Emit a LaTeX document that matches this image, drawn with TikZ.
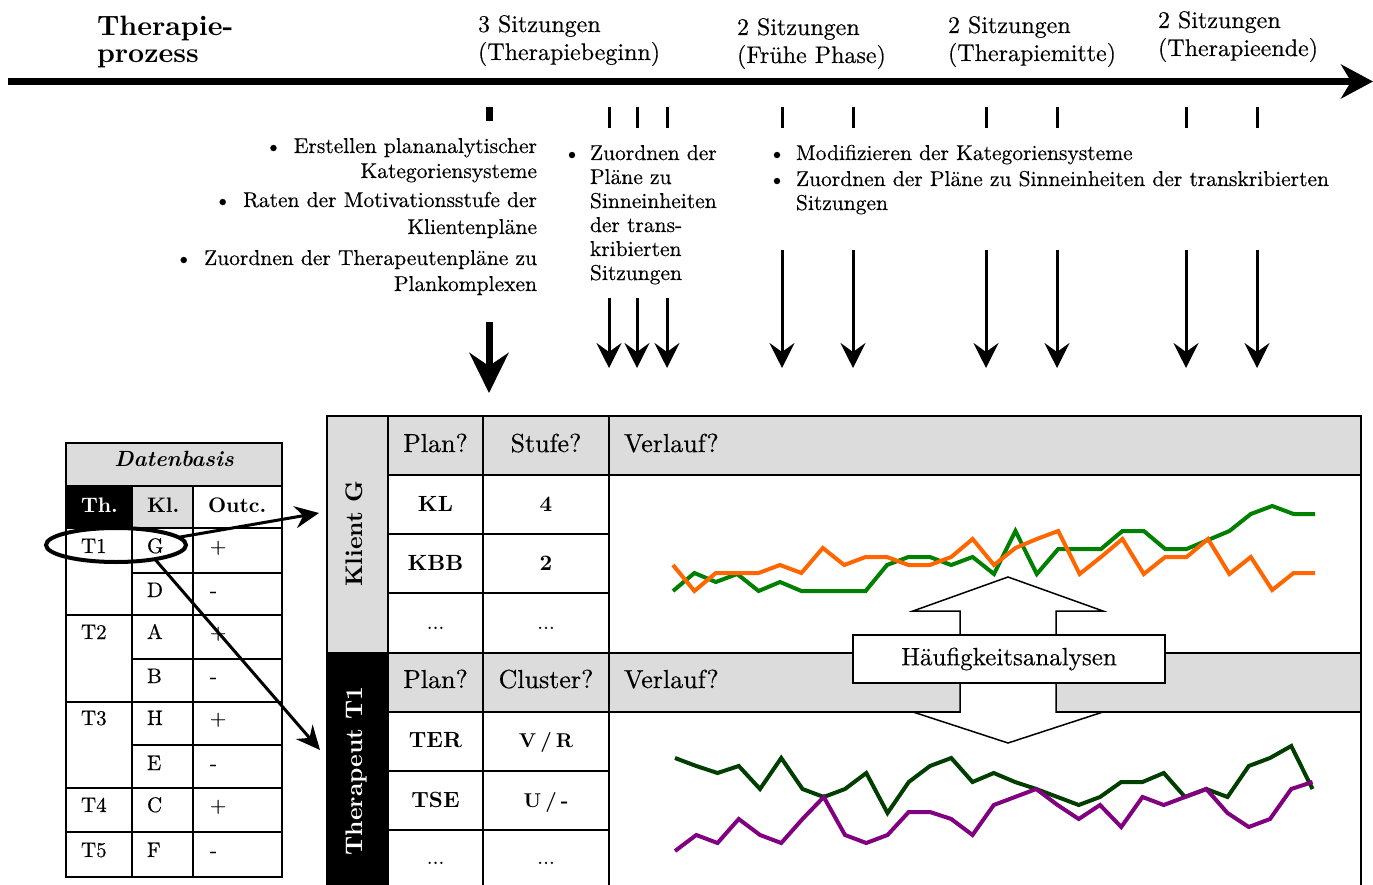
\documentclass[tikz,border=0pt]{standalone}
\usepackage{fontspec}
% use the 10pt design of Latin Modern at every size, slightly darkened
\setmainfont{lmroman10}[Extension=.otf,
  UprightFont=*-regular, BoldFont=*-bold,
  ItalicFont=*-italic, BoldItalicFont=*-bolditalic,
  UprightFeatures={FakeBold=0.4}]
\usetikzlibrary{arrows.meta,shapes.geometric}

\definecolor{cellgray}{RGB}{220,220,220}
\definecolor{kgreen}{RGB}{0,128,0}
\definecolor{korange}{RGB}{255,102,0}
\definecolor{tgreen}{RGB}{0,62,0}
\definecolor{tpurple}{RGB}{128,0,128}

\begin{document}
\begin{tikzpicture}[x=1pt,y=-1pt,
  every node/.style={inner sep=0pt,outer sep=0pt},
  ttl/.style={anchor=base west,font=\fontsize{28}{32}\selectfont\bfseries},
  phase/.style={anchor=base west,font=\fontsize{24}{28}\selectfont},
  bulr/.style={anchor=base east,font=\fontsize{21.5}{26}\selectfont},
  bull/.style={anchor=base west,font=\fontsize{21.5}{26}\selectfont},
  bdot/.style={anchor=base,font=\fontsize{21.5}{26}\selectfont},
  tickmark/.style={line width=3pt},
  flow/.style={line width=3pt,-{Stealth[length=25pt,width=25pt,inset=9pt]}},
  bigflow/.style={line width=7pt,-{Stealth[length=40pt,width=39pt,inset=13pt]}},
  drule/.style={line width=2pt},
  trule/.style={line width=2.5pt},
  thead/.style={anchor=base,font=\fontsize{26}{30}\selectfont},
  tcell/.style={anchor=base,font=\fontsize{22}{26}\selectfont\bfseries},
  vcell/.style={anchor=base,font=\fontsize{20}{24}\selectfont\bfseries},
  tdots/.style={anchor=base,font=\fontsize{21}{25}\selectfont},
  dcell/.style={anchor=base west,font=\fontsize{21}{25}\selectfont},
  dhead/.style={anchor=base west,font=\fontsize{21}{25}\selectfont\bfseries},
  side/.style={anchor=base,rotate=90,font=\fontsize{24}{28}\selectfont\bfseries},
  link/.style={line width=3pt,-{Stealth[length=24pt,width=22pt,inset=8pt]}},
  series/.style={line width=4pt},
]
\useasboundingbox (0,0) rectangle (1373,885);

% ---------- time line ----------
\node[ttl] (ttlA) at (97,36) {Therapie-};
\node[ttl] (ttlB) at (97,63) {prozess};

\node[phase] (p1a) at (478,32) {3 Sitzungen};
\node[phase] (p1b) at (478,60) {(Therapiebeginn)};
\node[phase] (p2a) at (737,35) {2 Sitzungen};
\node[phase] (p2b) at (737,63) {(Frühe Phase)};
\node[phase] (p3a) at (948,33) {2 Sitzungen};
\node[phase] (p3b) at (948,61) {(Therapiemitte)};
\node[phase] (p4a) at (1158,28) {2 Sitzungen};
\node[phase] (p4b) at (1158,56) {(Therapieende)};

\coordinate (axisL) at (8,81.5);
\coordinate (axisR) at (1373,81.5);
\draw[line width=7pt,-{Stealth[length=32pt,width=34pt,inset=10pt]}] (axisL) -- (axisR);

% session marks
\draw[line width=7pt] (489,107) -- (489,121);
\foreach \x in {609,637,667,782,853,986,1057,1186,1257}
  \draw[tickmark] (\x,107) -- (\x,128);

% ---------- work steps ----------
\node[bulr] (s1a) at (537,153) {\textbullet\hspace{12pt}Erstellen plananalytischer};
\node[bulr] (s1b) at (537,178) {Kategoriensysteme};
\node[bulr] (s2a) at (537,207) {\textbullet\hspace{12pt}Raten der Motivationsstufe der};
\node[bulr] (s2b) at (537,234) {Klientenpläne};
\node[bulr] (s3a) at (537,265) {\textbullet\hspace{12pt}Zuordnen der Therapeutenpläne zu};
\node[bulr] (s3b) at (537,291) {Plankomplexen};

\node[bdot] (m0) at (572,160) {\textbullet};
\node[bull] (m1) at (590,160) {Zuordnen der};
\node[bull] (m2) at (590,184) {Pläne zu};
\node[bull] (m3) at (590,208) {Sinneinheiten};
\node[bull] (m4) at (590,232) {der trans-};
\node[bull] (m5) at (590,256) {kribierten};
\node[bull] (m6) at (590,280) {Sitzungen};

\node[bdot] (r0a) at (777,160) {\textbullet};
\node[bdot] (r0b) at (777,186) {\textbullet};
\node[bull] (r1) at (796,160) {Modifizieren der Kategoriensysteme};
\node[bull] (r2) at (796,186) {Zuordnen der Pläne zu Sinneinheiten der transkribierten};
\node[bull] (r3) at (796,210) {Sitzungen};

% arrows down to the analysis
\coordinate (bigS) at (489,322);
\coordinate (bigE) at (489,393);
\draw[bigflow] (bigS) -- (bigE);
\foreach \x in {609,637,667} {
  \coordinate (fs\x) at (\x,298);
  \coordinate (fe\x) at (\x,368);
  \draw[flow] (fs\x) -- (fe\x);
}
\foreach \x in {782,853,986,1057,1186,1257} {
  \coordinate (fs\x) at (\x,250);
  \coordinate (fe\x) at (\x,368);
  \draw[flow] (fs\x) -- (fe\x);
}

% ---------- data base table ----------
\fill[cellgray] (66,443) rectangle (282,486);
\fill[black] (66,486) rectangle (132,528);
\fill[cellgray] (132,486) rectangle (193,528);
\draw[drule] (66,443) rectangle (282,877);
\draw[drule] (66,486) -- (282,486);
\draw[drule] (66,528) -- (282,528);
\foreach \y in {615,702,788,832} \draw[drule] (66,\y) -- (282,\y);
\foreach \y in {573,659,745} \draw[drule] (132,\y) -- (282,\y);
\draw[drule] (132,486) -- (132,877);
\draw[drule] (193,486) -- (193,877);

\node[anchor=base,font=\fontsize{22}{26}\selectfont\bfseries\itshape] (dbase) at (174,466) {Datenbasis};
\node[dhead,text=white] (hTh) at (81,512) {Th.};
\node[dhead] (hKl) at (147,512) {Kl.};
\node[dhead] (hOut) at (208,512) {Outc.};
\foreach \x/\y/\t/\n in {81/553/T1/c1, 147/553/G/c2, 210/553/+/c3,
    147/597/D/c4, 210/597/-/c5,
    81/639/T2/c6, 147/639/A/c7, 210/639/+/c8,
    147/683/B/c9, 210/683/-/c10,
    81/725/T3/c11, 147/725/H/c12, 210/725/+/c13,
    147/770/E/c14, 210/770/-/c15,
    81/812/T4/c16, 147/812/C/c17, 210/812/+/c18,
    81/857/T5/c19, 147/857/F/c20, 210/857/-/c21}
  \node[dcell] (\n) at (\x,\y) {\t};

% ---------- analysis table ----------
\fill[cellgray] (327,416) rectangle (388,653);
\fill[black] (327,653) rectangle (388,885);
\fill[cellgray] (388,416) rectangle (1361,475);
\fill[cellgray] (388,653) rectangle (1361,712);

\draw[trule] (327,885) -- (327,416) -- (1361,416) -- (1361,885);
\foreach \x in {388,483,609} \draw[trule] (\x,416) -- (\x,885);
\draw[trule] (388,475) -- (1361,475);
\draw[trule] (327,653) -- (1361,653);
\draw[trule] (388,712) -- (1361,712);
\foreach \y in {534,593,771,830} \draw[trule] (388,\y) -- (609,\y);

\node[side] (klient) at (362,534) {Klient G};
\node[side,text=white] (therap) at (362,771) {Therapeut T1};

\node[thead] (kPlan) at (435.5,452) {Plan?};
\node[thead] (kStufe) at (546,452) {Stufe?};
\node[thead,anchor=base west] (kVerl) at (624,452) {Verlauf?};
\node[tcell] (kKL) at (435.5,511) {KL};
\node[tcell] (k4) at (546,511) {4};
\node[tcell] (kKBB) at (435.5,570) {KBB};
\node[tcell] (k2) at (546,570) {2};
\node[tdots] (kd1) at (435.5,629) {...};
\node[tdots] (kd2) at (546,629) {...};

\node[thead] (tPlan) at (435.5,688) {Plan?};
\node[thead] (tClus) at (546,688) {Cluster?};
\node[thead,anchor=base west] (tVerl) at (624,688) {Verlauf?};
\node[tcell] (tTER) at (435.5,747) {TER};
\node[vcell] (tVR) at (546,747) {V\hspace{4pt}/\hspace{4pt}R};
\node[tcell] (tTSE) at (435.5,807) {TSE};
\node[vcell] (tU) at (546,807) {U\hspace{4pt}/\hspace{4pt}-};
\node[tdots] (td1) at (435.5,864) {...};
\node[tdots] (td2) at (546,864) {...};

% ---------- courses ----------
\draw[series,kgreen] (673,591) foreach \v [count=\i] in
  {573,582,574,591,582,591,591,591,591,565,557,557,565,557,574,
   531,574,549,549,549,531,531,549,549,540,531,514,506,514,514}
  { -- ({673+21.4*\i},\v) };
\draw[series,korange] (673,565) foreach \v [count=\i] in
  {591,573,573,573,565,573,548,565,557,557,565,565,557,539,565,
   548,539,531,574,557,539,574,557,557,539,574,557,590,573,573}
  { -- ({673+21.4*\i},\v) };
\draw[series,tgreen] (675,758) foreach \v [count=\i] in
  {766,773,766,789,758,789,797,789,773,813,782,766,758,782,773,
   782,789,797,805,797,782,782,773,797,789,797,766,758,746,789}
  { -- ({675+21.25*\i},\v) };
\draw[series,tpurple] (675,851) foreach \v [count=\i] in
  {835,843,819,835,843,819,797,835,843,835,812,812,819,835,805,
   797,789,805,819,805,827,797,805,797,789,813,827,819,789,782}
  { -- ({675+21.25*\i},\v) };

% ---------- frequency analyses ----------
\draw[line width=1.5pt,fill=white]
  (1008,577) -- (1103,611) -- (1056,611) -- (1056,712) -- (1103,712)
  -- (1008,743) -- (913,712) -- (960,712) -- (960,611) -- (913,611) -- cycle;
\node[draw,fill=white,line width=2pt,minimum width=312pt,minimum height=48pt,
  font=\fontsize{25}{29}\selectfont] (freq) at (1009,659) {Häufigkeitsanalysen};

% ---------- selection of one dyad ----------
\node[draw,ellipse,line width=4pt,minimum width=140pt,minimum height=34pt] (ring) at (116,545) {};
\coordinate (toKlient) at (319,513);
\coordinate (toTher) at (320,750);
\draw[link] (ring.7) -- (toKlient);
\draw[link] (ring.-20) -- (toTher);
\end{tikzpicture}
\end{document}
